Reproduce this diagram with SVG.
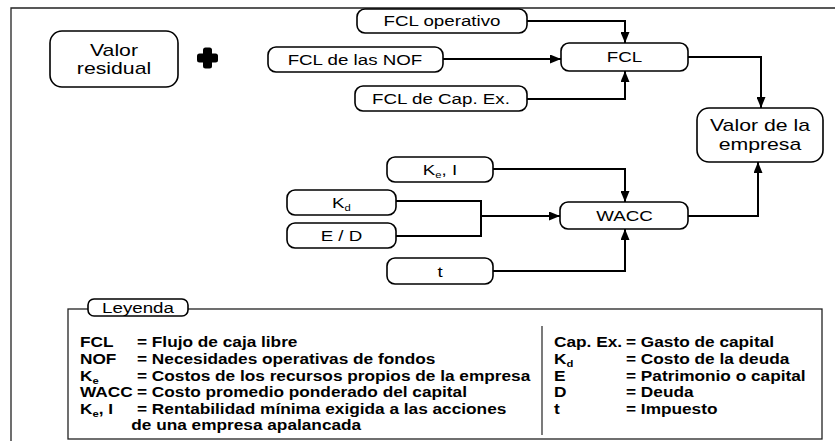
<svg xmlns="http://www.w3.org/2000/svg" width="835" height="441" viewBox="0 0 835 441">
<style>
  .box{fill:#fff;stroke:#000;stroke-width:1.6}
  .lbl{font-family:"Liberation Sans",Arial,sans-serif;font-size:15px;fill:#000;text-anchor:middle}
  .big{font-size:17px}
  .leg{font-family:"Liberation Sans",Arial,sans-serif;font-size:13.8px;font-weight:bold;fill:#000}
  .con{fill:none;stroke:#000;stroke-width:2}
  .frame{fill:none;stroke:#222;stroke-width:1.3}
</style>
<defs>
  <marker id="ah" markerUnits="userSpaceOnUse" markerWidth="12" markerHeight="9" refX="11" refY="4.5" orient="auto">
    <path d="M0,0 L11,4.5 L0,9 z" fill="#000"/>
  </marker>
</defs>
<rect width="835" height="441" fill="#fff"/>
<path class="frame" d="M11,441 V8 H835"/>

<g id="valor-residual">
  <rect class="box" x="50" y="31" width="128" height="56" rx="12"/>
  <text class="lbl big" transform="scale(1.25 1)" x="91.2" y="56">Valor</text>
  <text class="lbl big" transform="scale(1.25 1)" x="91.2" y="74">residual</text>
</g>
<g id="plus">
  <rect x="197" y="53.5" width="21" height="9" rx="2.5" fill="#000"/>
  <rect x="203" y="47.5" width="9" height="21" rx="2.5" fill="#000"/>
</g>
<g id="fcl-operativo">
  <rect class="box" x="357" y="9" width="170" height="24" rx="8"/>
  <text class="lbl" transform="scale(1.25 1)" x="353.6" y="26">FCL operativo</text>
</g>
<g id="fcl-nof">
  <rect class="box" x="268" y="47" width="175" height="25" rx="8"/>
  <text class="lbl" transform="scale(1.25 1)" x="284" y="65">FCL de las NOF</text>
</g>
<g id="fcl-capex">
  <rect class="box" x="355" y="86" width="172" height="25" rx="8"/>
  <text class="lbl" transform="scale(1.25 1)" x="352.8" y="104">FCL de Cap. Ex.</text>
</g>
<g id="fcl">
  <rect class="box" x="561" y="43" width="127" height="28" rx="8"/>
  <text class="lbl" transform="scale(1.25 1)" x="499.6" y="62.5">FCL</text>
</g>
<g id="valor-empresa">
  <rect class="box" x="697" y="108" width="126" height="54" rx="12"/>
  <text class="lbl big" transform="scale(1.25 1)" x="608" y="131">Valor de la</text>
  <text class="lbl big" transform="scale(1.25 1)" x="608" y="150">empresa</text>
</g>
<g id="ke-i">
  <rect class="box" x="387" y="157" width="106" height="25" rx="8"/>
  <text class="lbl" transform="scale(1.25 1)" x="352" y="175">K<tspan font-size="9" dy="3">e</tspan><tspan dy="-3">, I</tspan></text>
</g>
<g id="kd">
  <rect class="box" x="287" y="190" width="109" height="25" rx="8"/>
  <text class="lbl" transform="scale(1.25 1)" x="273.2" y="208">K<tspan font-size="9" dy="3">d</tspan></text>
</g>
<g id="e-d">
  <rect class="box" x="287" y="223" width="109" height="25" rx="8"/>
  <text class="lbl" transform="scale(1.25 1)" x="273.2" y="241">E / D</text>
</g>
<g id="wacc">
  <rect class="box" x="560" y="202" width="128" height="27" rx="8"/>
  <text class="lbl" transform="scale(1.25 1)" x="499.6" y="221">WACC</text>
</g>
<g id="t">
  <rect class="box" x="387" y="258" width="106" height="26" rx="8"/>
  <text class="lbl" transform="scale(1.25 1)" x="352" y="277">t</text>
</g>

<g id="connectors">
  <path class="con" d="M527,21 H625 V43" marker-end="url(#ah)"/>
  <path class="con" d="M443,59 H561" marker-end="url(#ah)"/>
  <path class="con" d="M527,99 H625 V71" marker-end="url(#ah)"/>
  <path class="con" d="M688,57 H761 V108" marker-end="url(#ah)"/>
  <path class="con" d="M493,169 H625 V202" marker-end="url(#ah)"/>
  <path class="con" d="M396,201 H481 V236 H396"/>
  <path class="con" d="M481,216 H560" marker-end="url(#ah)"/>
  <path class="con" d="M493,271 H625 V229" marker-end="url(#ah)"/>
  <path class="con" d="M688,216 H758 V162" marker-end="url(#ah)"/>
</g>

<g id="legend">
  <rect x="68" y="309" width="754" height="130" fill="none" stroke="#222" stroke-width="1.3"/>
  <line x1="542" y1="326" x2="542" y2="435" stroke="#222" stroke-width="1.2"/>
  <rect class="box" x="88" y="299" width="100" height="17" rx="6"/>
  <text class="lbl" transform="scale(1.25 1)" x="110.4" y="313">Leyenda</text>
  <g class="leg" transform="scale(1.25 1)">
    <text x="64" y="347">FCL</text>
    <text x="109.6" y="347">= Flujo de caja libre</text>
    <text x="64" y="364">NOF</text>
    <text x="109.6" y="364">= Necesidades operativas de fondos</text>
    <text x="64" y="381">K<tspan font-size="9" dy="3">e</tspan></text>
    <text x="109.6" y="381">= Costos de los recursos propios de la empresa</text>
    <text x="64" y="397">WACC</text>
    <text x="109.6" y="397">= Costo promedio ponderado del capital</text>
    <text x="64" y="414">K<tspan font-size="9" dy="3">e</tspan><tspan dy="-3">, I</tspan></text>
    <text x="109.6" y="414">= Rentabilidad mínima exigida a las acciones</text>
    <text x="105" y="430">de una empresa apalancada</text>
    <text x="443.2" y="347">Cap. Ex.</text>
    <text x="500.8" y="347">= Gasto de capital</text>
    <text x="443.2" y="364">K<tspan font-size="9" dy="3">d</tspan></text>
    <text x="500.8" y="364">= Costo de la deuda</text>
    <text x="443.2" y="381">E</text>
    <text x="500.8" y="381">= Patrimonio o capital</text>
    <text x="443.2" y="397">D</text>
    <text x="500.8" y="397">= Deuda</text>
    <text x="443.2" y="414">t</text>
    <text x="500.8" y="414">= Impuesto</text>
  </g>
</g>
</svg>
